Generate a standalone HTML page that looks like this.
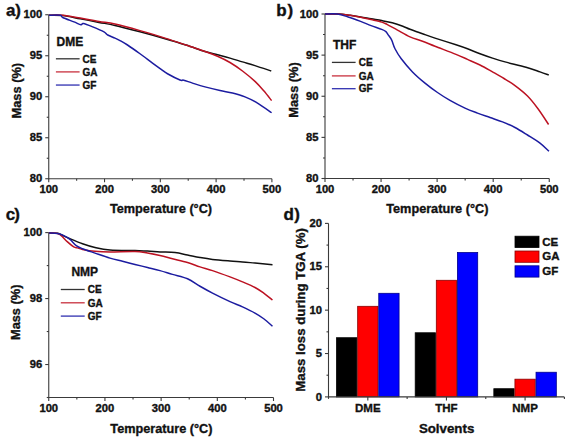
<!DOCTYPE html>
<html><head><meta charset="utf-8"><title>TGA</title>
<style>
html,body{margin:0;padding:0;background:#fff;}
body{width:568px;height:440px;overflow:hidden;}
svg{display:block;}
</style></head><body>
<svg width="568" height="440" viewBox="0 0 568 440" font-family="&quot;Liberation Sans&quot;, sans-serif" font-weight="bold">
<rect width="568" height="440" fill="#ffffff"/>
<line x1="48.75" y1="14.75" x2="48.75" y2="179.25" stroke="#3a3a3a" stroke-width="1.1"/>
<line x1="48.25" y1="178.75" x2="271.90" y2="178.75" stroke="#3a3a3a" stroke-width="1.1"/>
<line x1="45.25" y1="14.75" x2="48.75" y2="14.75" stroke="#3a3a3a" stroke-width="1.1"/>
<text transform="translate(42.25 18.35) scale(1.1 1)" font-size="10.2" text-anchor="end" fill="#111" stroke="#111" stroke-width="0.35" paint-order="stroke">100</text>
<line x1="45.25" y1="55.75" x2="48.75" y2="55.75" stroke="#3a3a3a" stroke-width="1.1"/>
<text transform="translate(42.25 59.35) scale(1.1 1)" font-size="10.2" text-anchor="end" fill="#111" stroke="#111" stroke-width="0.35" paint-order="stroke">95</text>
<line x1="45.25" y1="96.75" x2="48.75" y2="96.75" stroke="#3a3a3a" stroke-width="1.1"/>
<text transform="translate(42.25 100.35) scale(1.1 1)" font-size="10.2" text-anchor="end" fill="#111" stroke="#111" stroke-width="0.35" paint-order="stroke">90</text>
<line x1="45.25" y1="137.75" x2="48.75" y2="137.75" stroke="#3a3a3a" stroke-width="1.1"/>
<text transform="translate(42.25 141.35) scale(1.1 1)" font-size="10.2" text-anchor="end" fill="#111" stroke="#111" stroke-width="0.35" paint-order="stroke">85</text>
<line x1="45.25" y1="178.75" x2="48.75" y2="178.75" stroke="#3a3a3a" stroke-width="1.1"/>
<text transform="translate(42.25 182.35) scale(1.1 1)" font-size="10.2" text-anchor="end" fill="#111" stroke="#111" stroke-width="0.35" paint-order="stroke">80</text>
<line x1="46.75" y1="158.25" x2="48.75" y2="158.25" stroke="#3a3a3a" stroke-width="1.1"/>
<line x1="46.75" y1="117.25" x2="48.75" y2="117.25" stroke="#3a3a3a" stroke-width="1.1"/>
<line x1="46.75" y1="76.25" x2="48.75" y2="76.25" stroke="#3a3a3a" stroke-width="1.1"/>
<line x1="46.75" y1="35.25" x2="48.75" y2="35.25" stroke="#3a3a3a" stroke-width="1.1"/>
<line x1="48.75" y1="178.75" x2="48.75" y2="182.25" stroke="#3a3a3a" stroke-width="1.1"/>
<text transform="translate(48.75 193.25) scale(1.1 1)" font-size="10.2" text-anchor="middle" fill="#111" stroke="#111" stroke-width="0.35" paint-order="stroke">100</text>
<line x1="104.54" y1="178.75" x2="104.54" y2="182.25" stroke="#3a3a3a" stroke-width="1.1"/>
<text transform="translate(104.54 193.25) scale(1.1 1)" font-size="10.2" text-anchor="middle" fill="#111" stroke="#111" stroke-width="0.35" paint-order="stroke">200</text>
<line x1="160.32" y1="178.75" x2="160.32" y2="182.25" stroke="#3a3a3a" stroke-width="1.1"/>
<text transform="translate(160.32 193.25) scale(1.1 1)" font-size="10.2" text-anchor="middle" fill="#111" stroke="#111" stroke-width="0.35" paint-order="stroke">300</text>
<line x1="216.11" y1="178.75" x2="216.11" y2="182.25" stroke="#3a3a3a" stroke-width="1.1"/>
<text transform="translate(216.11 193.25) scale(1.1 1)" font-size="10.2" text-anchor="middle" fill="#111" stroke="#111" stroke-width="0.35" paint-order="stroke">400</text>
<line x1="271.90" y1="178.75" x2="271.90" y2="182.25" stroke="#3a3a3a" stroke-width="1.1"/>
<text transform="translate(271.90 193.25) scale(1.1 1)" font-size="10.2" text-anchor="middle" fill="#111" stroke="#111" stroke-width="0.35" paint-order="stroke">500</text>
<line x1="76.64" y1="178.75" x2="76.64" y2="180.75" stroke="#3a3a3a" stroke-width="1.1"/>
<line x1="132.43" y1="178.75" x2="132.43" y2="180.75" stroke="#3a3a3a" stroke-width="1.1"/>
<line x1="188.22" y1="178.75" x2="188.22" y2="180.75" stroke="#3a3a3a" stroke-width="1.1"/>
<line x1="244.01" y1="178.75" x2="244.01" y2="180.75" stroke="#3a3a3a" stroke-width="1.1"/>
<line x1="325.00" y1="14.00" x2="325.00" y2="179.00" stroke="#3a3a3a" stroke-width="1.1"/>
<line x1="324.50" y1="178.50" x2="549.25" y2="178.50" stroke="#3a3a3a" stroke-width="1.1"/>
<line x1="321.50" y1="14.00" x2="325.00" y2="14.00" stroke="#3a3a3a" stroke-width="1.1"/>
<text transform="translate(318.50 17.60) scale(1.1 1)" font-size="10.2" text-anchor="end" fill="#111" stroke="#111" stroke-width="0.35" paint-order="stroke">100</text>
<line x1="321.50" y1="55.12" x2="325.00" y2="55.12" stroke="#3a3a3a" stroke-width="1.1"/>
<text transform="translate(318.50 58.73) scale(1.1 1)" font-size="10.2" text-anchor="end" fill="#111" stroke="#111" stroke-width="0.35" paint-order="stroke">95</text>
<line x1="321.50" y1="96.25" x2="325.00" y2="96.25" stroke="#3a3a3a" stroke-width="1.1"/>
<text transform="translate(318.50 99.85) scale(1.1 1)" font-size="10.2" text-anchor="end" fill="#111" stroke="#111" stroke-width="0.35" paint-order="stroke">90</text>
<line x1="321.50" y1="137.38" x2="325.00" y2="137.38" stroke="#3a3a3a" stroke-width="1.1"/>
<text transform="translate(318.50 140.97) scale(1.1 1)" font-size="10.2" text-anchor="end" fill="#111" stroke="#111" stroke-width="0.35" paint-order="stroke">85</text>
<line x1="321.50" y1="178.50" x2="325.00" y2="178.50" stroke="#3a3a3a" stroke-width="1.1"/>
<text transform="translate(318.50 182.10) scale(1.1 1)" font-size="10.2" text-anchor="end" fill="#111" stroke="#111" stroke-width="0.35" paint-order="stroke">80</text>
<line x1="323.00" y1="157.94" x2="325.00" y2="157.94" stroke="#3a3a3a" stroke-width="1.1"/>
<line x1="323.00" y1="116.81" x2="325.00" y2="116.81" stroke="#3a3a3a" stroke-width="1.1"/>
<line x1="323.00" y1="75.69" x2="325.00" y2="75.69" stroke="#3a3a3a" stroke-width="1.1"/>
<line x1="323.00" y1="34.56" x2="325.00" y2="34.56" stroke="#3a3a3a" stroke-width="1.1"/>
<line x1="325.00" y1="178.50" x2="325.00" y2="182.00" stroke="#3a3a3a" stroke-width="1.1"/>
<text transform="translate(325.00 193.00) scale(1.1 1)" font-size="10.2" text-anchor="middle" fill="#111" stroke="#111" stroke-width="0.35" paint-order="stroke">100</text>
<line x1="381.06" y1="178.50" x2="381.06" y2="182.00" stroke="#3a3a3a" stroke-width="1.1"/>
<text transform="translate(381.06 193.00) scale(1.1 1)" font-size="10.2" text-anchor="middle" fill="#111" stroke="#111" stroke-width="0.35" paint-order="stroke">200</text>
<line x1="437.12" y1="178.50" x2="437.12" y2="182.00" stroke="#3a3a3a" stroke-width="1.1"/>
<text transform="translate(437.12 193.00) scale(1.1 1)" font-size="10.2" text-anchor="middle" fill="#111" stroke="#111" stroke-width="0.35" paint-order="stroke">300</text>
<line x1="493.19" y1="178.50" x2="493.19" y2="182.00" stroke="#3a3a3a" stroke-width="1.1"/>
<text transform="translate(493.19 193.00) scale(1.1 1)" font-size="10.2" text-anchor="middle" fill="#111" stroke="#111" stroke-width="0.35" paint-order="stroke">400</text>
<line x1="549.25" y1="178.50" x2="549.25" y2="182.00" stroke="#3a3a3a" stroke-width="1.1"/>
<text transform="translate(549.25 193.00) scale(1.1 1)" font-size="10.2" text-anchor="middle" fill="#111" stroke="#111" stroke-width="0.35" paint-order="stroke">500</text>
<line x1="353.03" y1="178.50" x2="353.03" y2="180.50" stroke="#3a3a3a" stroke-width="1.1"/>
<line x1="409.09" y1="178.50" x2="409.09" y2="180.50" stroke="#3a3a3a" stroke-width="1.1"/>
<line x1="465.16" y1="178.50" x2="465.16" y2="180.50" stroke="#3a3a3a" stroke-width="1.1"/>
<line x1="521.22" y1="178.50" x2="521.22" y2="180.50" stroke="#3a3a3a" stroke-width="1.1"/>
<line x1="48.75" y1="232.60" x2="48.75" y2="398.00" stroke="#3a3a3a" stroke-width="1.1"/>
<line x1="48.25" y1="397.50" x2="273.50" y2="397.50" stroke="#3a3a3a" stroke-width="1.1"/>
<line x1="45.25" y1="232.60" x2="48.75" y2="232.60" stroke="#3a3a3a" stroke-width="1.1"/>
<text transform="translate(42.25 236.20) scale(1.1 1)" font-size="10.2" text-anchor="end" fill="#111" stroke="#111" stroke-width="0.35" paint-order="stroke">100</text>
<line x1="45.25" y1="298.56" x2="48.75" y2="298.56" stroke="#3a3a3a" stroke-width="1.1"/>
<text transform="translate(42.25 302.16) scale(1.1 1)" font-size="10.2" text-anchor="end" fill="#111" stroke="#111" stroke-width="0.35" paint-order="stroke">98</text>
<line x1="45.25" y1="364.52" x2="48.75" y2="364.52" stroke="#3a3a3a" stroke-width="1.1"/>
<text transform="translate(42.25 368.12) scale(1.1 1)" font-size="10.2" text-anchor="end" fill="#111" stroke="#111" stroke-width="0.35" paint-order="stroke">96</text>
<line x1="46.75" y1="265.58" x2="48.75" y2="265.58" stroke="#3a3a3a" stroke-width="1.1"/>
<line x1="46.75" y1="331.54" x2="48.75" y2="331.54" stroke="#3a3a3a" stroke-width="1.1"/>
<line x1="46.75" y1="397.50" x2="48.75" y2="397.50" stroke="#3a3a3a" stroke-width="1.1"/>
<line x1="48.75" y1="397.50" x2="48.75" y2="401.00" stroke="#3a3a3a" stroke-width="1.1"/>
<text transform="translate(48.75 412.00) scale(1.1 1)" font-size="10.2" text-anchor="middle" fill="#111" stroke="#111" stroke-width="0.35" paint-order="stroke">100</text>
<line x1="104.94" y1="397.50" x2="104.94" y2="401.00" stroke="#3a3a3a" stroke-width="1.1"/>
<text transform="translate(104.94 412.00) scale(1.1 1)" font-size="10.2" text-anchor="middle" fill="#111" stroke="#111" stroke-width="0.35" paint-order="stroke">200</text>
<line x1="161.12" y1="397.50" x2="161.12" y2="401.00" stroke="#3a3a3a" stroke-width="1.1"/>
<text transform="translate(161.12 412.00) scale(1.1 1)" font-size="10.2" text-anchor="middle" fill="#111" stroke="#111" stroke-width="0.35" paint-order="stroke">300</text>
<line x1="217.31" y1="397.50" x2="217.31" y2="401.00" stroke="#3a3a3a" stroke-width="1.1"/>
<text transform="translate(217.31 412.00) scale(1.1 1)" font-size="10.2" text-anchor="middle" fill="#111" stroke="#111" stroke-width="0.35" paint-order="stroke">400</text>
<line x1="273.50" y1="397.50" x2="273.50" y2="401.00" stroke="#3a3a3a" stroke-width="1.1"/>
<text transform="translate(273.50 412.00) scale(1.1 1)" font-size="10.2" text-anchor="middle" fill="#111" stroke="#111" stroke-width="0.35" paint-order="stroke">500</text>
<line x1="76.84" y1="397.50" x2="76.84" y2="399.50" stroke="#3a3a3a" stroke-width="1.1"/>
<line x1="133.03" y1="397.50" x2="133.03" y2="399.50" stroke="#3a3a3a" stroke-width="1.1"/>
<line x1="189.22" y1="397.50" x2="189.22" y2="399.50" stroke="#3a3a3a" stroke-width="1.1"/>
<line x1="245.41" y1="397.50" x2="245.41" y2="399.50" stroke="#3a3a3a" stroke-width="1.1"/>
<line x1="328.50" y1="223.40" x2="328.50" y2="397.40" stroke="#3a3a3a" stroke-width="1.1"/>
<line x1="325.00" y1="396.90" x2="328.50" y2="396.90" stroke="#3a3a3a" stroke-width="1.1"/>
<text transform="translate(322.00 400.50) scale(1.1 1)" font-size="10.2" text-anchor="end" fill="#111" stroke="#111" stroke-width="0.35" paint-order="stroke">0</text>
<line x1="325.00" y1="353.52" x2="328.50" y2="353.52" stroke="#3a3a3a" stroke-width="1.1"/>
<text transform="translate(322.00 357.12) scale(1.1 1)" font-size="10.2" text-anchor="end" fill="#111" stroke="#111" stroke-width="0.35" paint-order="stroke">5</text>
<line x1="325.00" y1="310.15" x2="328.50" y2="310.15" stroke="#3a3a3a" stroke-width="1.1"/>
<text transform="translate(322.00 313.75) scale(1.1 1)" font-size="10.2" text-anchor="end" fill="#111" stroke="#111" stroke-width="0.35" paint-order="stroke">10</text>
<line x1="325.00" y1="266.77" x2="328.50" y2="266.77" stroke="#3a3a3a" stroke-width="1.1"/>
<text transform="translate(322.00 270.38) scale(1.1 1)" font-size="10.2" text-anchor="end" fill="#111" stroke="#111" stroke-width="0.35" paint-order="stroke">15</text>
<line x1="325.00" y1="223.40" x2="328.50" y2="223.40" stroke="#3a3a3a" stroke-width="1.1"/>
<text transform="translate(322.00 227.00) scale(1.1 1)" font-size="10.2" text-anchor="end" fill="#111" stroke="#111" stroke-width="0.35" paint-order="stroke">20</text>
<line x1="326.50" y1="375.21" x2="328.50" y2="375.21" stroke="#3a3a3a" stroke-width="1.1"/>
<line x1="326.50" y1="331.84" x2="328.50" y2="331.84" stroke="#3a3a3a" stroke-width="1.1"/>
<line x1="326.50" y1="288.46" x2="328.50" y2="288.46" stroke="#3a3a3a" stroke-width="1.1"/>
<line x1="326.50" y1="245.09" x2="328.50" y2="245.09" stroke="#3a3a3a" stroke-width="1.1"/>
<rect x="336.57" y="337.72" width="20.30" height="59.18" fill="#000000" stroke="#000000" stroke-width="0.8"/>
<rect x="357.67" y="306.31" width="20.30" height="90.59" fill="#ff0000" stroke="#8a0000" stroke-width="0.8"/>
<rect x="378.77" y="293.30" width="20.30" height="103.60" fill="#0000ff" stroke="#00008a" stroke-width="0.8"/>
<rect x="415.20" y="332.77" width="20.30" height="64.13" fill="#000000" stroke="#000000" stroke-width="0.8"/>
<rect x="436.30" y="280.29" width="20.30" height="116.61" fill="#ff0000" stroke="#8a0000" stroke-width="0.8"/>
<rect x="457.40" y="252.53" width="20.30" height="144.37" fill="#0000ff" stroke="#00008a" stroke-width="0.8"/>
<rect x="493.83" y="388.72" width="20.30" height="8.18" fill="#000000" stroke="#000000" stroke-width="0.8"/>
<rect x="514.93" y="379.18" width="20.30" height="17.72" fill="#ff0000" stroke="#8a0000" stroke-width="0.8"/>
<rect x="536.03" y="372.24" width="20.30" height="24.66" fill="#0000ff" stroke="#00008a" stroke-width="0.8"/>
<line x1="328.00" y1="396.90" x2="564.40" y2="396.90" stroke="#3a3a3a" stroke-width="1.1"/>
<line x1="367.82" y1="396.90" x2="367.82" y2="400.40" stroke="#3a3a3a" stroke-width="1.1"/>
<line x1="446.45" y1="396.90" x2="446.45" y2="400.40" stroke="#3a3a3a" stroke-width="1.1"/>
<line x1="525.08" y1="396.90" x2="525.08" y2="400.40" stroke="#3a3a3a" stroke-width="1.1"/>
<line x1="328.50" y1="396.90" x2="328.50" y2="398.90" stroke="#3a3a3a" stroke-width="1.1"/>
<line x1="407.13" y1="396.90" x2="407.13" y2="398.90" stroke="#3a3a3a" stroke-width="1.1"/>
<line x1="485.77" y1="396.90" x2="485.77" y2="398.90" stroke="#3a3a3a" stroke-width="1.1"/>
<line x1="564.40" y1="396.90" x2="564.40" y2="398.90" stroke="#3a3a3a" stroke-width="1.1"/>
<text x="367.82" y="412.30" font-size="11.5" text-anchor="middle" fill="#111" stroke="#111" stroke-width="0.35" paint-order="stroke">DME</text>
<text x="446.45" y="412.30" font-size="11.5" text-anchor="middle" fill="#111" stroke="#111" stroke-width="0.35" paint-order="stroke">THF</text>
<text x="525.08" y="412.30" font-size="11.5" text-anchor="middle" fill="#111" stroke="#111" stroke-width="0.35" paint-order="stroke">NMP</text>
<rect x="515" y="236.20" width="24" height="11.3" fill="#000000" stroke="#000000" stroke-width="0.8"/>
<text x="542.30" y="245.60" font-size="11.5" text-anchor="start" fill="#111" stroke="#111" stroke-width="0.35" paint-order="stroke">CE</text>
<rect x="515" y="251.00" width="24" height="11.3" fill="#ff0000" stroke="#8a0000" stroke-width="0.8"/>
<text x="542.30" y="260.40" font-size="11.5" text-anchor="start" fill="#111" stroke="#111" stroke-width="0.35" paint-order="stroke">GA</text>
<rect x="515" y="265.80" width="24" height="11.3" fill="#0000ff" stroke="#00008a" stroke-width="0.8"/>
<text x="542.30" y="275.20" font-size="11.5" text-anchor="start" fill="#111" stroke="#111" stroke-width="0.35" paint-order="stroke">GF</text>
<path d="M49.00,15.25 C51.29,15.31 57.54,15.01 62.75,15.60 C67.96,16.19 74.21,17.67 80.25,18.80 C86.29,19.93 93.21,21.30 99.00,22.40 C104.79,23.50 108.17,23.83 115.00,25.40 C121.83,26.97 131.67,29.58 140.00,31.80 C148.33,34.02 157.33,36.50 165.00,38.70 C172.67,40.90 179.33,42.87 186.00,45.00 C192.67,47.13 199.75,49.88 205.00,51.50 C210.25,53.12 213.33,53.65 217.50,54.75 C221.67,55.85 225.83,56.91 230.00,58.10 C234.17,59.29 238.33,60.65 242.50,61.90 C246.67,63.15 250.21,64.08 255.00,65.60 C259.79,67.12 268.54,70.10 271.25,71.00" fill="none" stroke="#111111" stroke-width="1.5" stroke-linejoin="round"/>
<path d="M49.00,15.25 C51.29,15.25 57.54,14.78 62.75,15.25 C67.96,15.72 74.21,17.06 80.25,18.10 C86.29,19.14 93.21,20.52 99.00,21.50 C104.79,22.48 108.17,22.48 115.00,24.00 C121.83,25.52 131.67,28.25 140.00,30.60 C148.33,32.95 157.33,35.70 165.00,38.10 C172.67,40.50 179.33,42.77 186.00,45.00 C192.67,47.23 199.75,49.62 205.00,51.50 C210.25,53.38 213.33,54.42 217.50,56.25 C221.67,58.08 225.83,60.04 230.00,62.50 C234.17,64.96 238.33,67.85 242.50,71.00 C246.67,74.15 251.46,78.10 255.00,81.40 C258.54,84.70 260.98,87.60 263.75,90.80 C266.52,94.00 270.29,98.97 271.60,100.60" fill="none" stroke="#bc1222" stroke-width="1.5" stroke-linejoin="round"/>
<path d="M49.00,15.25 C50.88,15.25 57.96,14.88 60.25,15.25 C62.54,15.62 60.46,16.39 62.75,17.50 C65.04,18.61 70.97,20.69 74.00,21.90 C77.03,23.11 79.33,24.48 80.90,24.75 C82.47,25.02 81.43,23.14 83.40,23.50 C85.38,23.86 89.32,25.50 92.75,26.90 C96.18,28.30 101.50,30.55 104.00,31.90 C106.50,33.25 105.92,33.97 107.75,35.00 C109.58,36.03 112.96,37.17 115.00,38.10 C117.04,39.03 117.92,39.45 120.00,40.60 C122.08,41.75 124.17,42.81 127.50,45.00 C130.83,47.19 135.83,50.73 140.00,53.75 C144.17,56.77 148.96,60.49 152.50,63.10 C156.04,65.71 158.75,67.62 161.25,69.40 C163.75,71.18 164.38,71.98 167.50,73.75 C170.62,75.52 177.29,78.92 180.00,80.00 C182.71,81.08 181.67,79.68 183.75,80.20 C185.83,80.72 188.96,81.98 192.50,83.10 C196.04,84.22 200.42,85.65 205.00,86.90 C209.58,88.15 215.42,89.57 220.00,90.60 C224.58,91.63 228.33,92.05 232.50,93.10 C236.67,94.15 240.83,95.23 245.00,96.90 C249.17,98.57 253.07,100.46 257.50,103.10 C261.93,105.74 269.25,111.14 271.60,112.75" fill="none" stroke="#1c1ca0" stroke-width="1.5" stroke-linejoin="round"/>
<path d="M325.00,14.00 C327.29,14.00 334.58,13.78 338.75,14.00 C342.92,14.22 346.36,14.82 350.00,15.30 C353.64,15.78 357.08,16.32 360.60,16.90 C364.12,17.48 367.58,18.18 371.10,18.80 C374.62,19.42 378.18,19.93 381.70,20.60 C385.22,21.27 388.68,21.87 392.20,22.80 C395.72,23.73 399.83,25.12 402.80,26.20 C405.77,27.28 406.72,28.04 410.00,29.30 C413.28,30.56 418.33,32.28 422.50,33.75 C426.67,35.22 429.42,36.27 435.00,38.10 C440.58,39.93 450.58,42.98 456.00,44.75 C461.42,46.52 463.50,47.25 467.50,48.75 C471.50,50.25 475.83,52.19 480.00,53.75 C484.17,55.31 488.33,56.74 492.50,58.10 C496.67,59.46 499.42,60.38 505.00,61.90 C510.58,63.42 520.17,65.58 526.00,67.25 C531.83,68.92 536.21,70.61 540.00,71.90 C543.79,73.19 547.29,74.48 548.75,75.00" fill="none" stroke="#111111" stroke-width="1.5" stroke-linejoin="round"/>
<path d="M325.00,14.00 C327.29,14.00 334.58,13.78 338.75,14.00 C342.92,14.22 346.36,14.75 350.00,15.30 C353.64,15.85 357.08,16.58 360.60,17.30 C364.12,18.02 367.58,18.80 371.10,19.60 C374.62,20.40 379.05,21.30 381.70,22.10 C384.35,22.90 384.37,23.05 387.00,24.40 C389.63,25.75 393.67,28.12 397.50,30.20 C401.33,32.28 405.83,35.06 410.00,36.90 C414.17,38.74 418.33,39.69 422.50,41.25 C426.67,42.81 429.42,44.06 435.00,46.25 C440.58,48.44 450.58,52.21 456.00,54.40 C461.42,56.59 463.50,57.63 467.50,59.40 C471.50,61.17 475.83,62.92 480.00,65.00 C484.17,67.08 488.50,69.65 492.50,71.90 C496.50,74.15 500.25,76.22 504.00,78.50 C507.75,80.78 511.08,82.68 515.00,85.60 C518.92,88.52 523.67,92.14 527.50,96.00 C531.33,99.86 534.48,104.00 538.00,108.75 C541.52,113.50 546.83,121.88 548.60,124.50" fill="none" stroke="#bc1222" stroke-width="1.5" stroke-linejoin="round"/>
<path d="M325.00,14.00 C327.08,14.00 333.63,13.50 337.50,14.00 C341.37,14.50 344.35,15.77 348.20,17.00 C352.05,18.23 356.78,19.97 360.60,21.40 C364.42,22.83 367.58,24.27 371.10,25.60 C374.62,26.93 379.23,28.40 381.70,29.40 C384.17,30.40 384.82,30.70 385.90,31.60 C386.98,32.50 387.23,33.38 388.20,34.80 C389.17,36.22 390.57,37.77 391.70,40.10 C392.83,42.43 393.41,45.64 395.00,48.75 C396.59,51.86 398.33,54.89 401.25,58.75 C404.17,62.61 408.54,67.84 412.50,71.90 C416.46,75.96 420.83,79.67 425.00,83.10 C429.17,86.53 433.33,89.62 437.50,92.50 C441.67,95.38 445.42,97.80 450.00,100.40 C454.58,103.00 460.42,105.98 465.00,108.10 C469.58,110.22 473.33,111.53 477.50,113.10 C481.67,114.67 485.83,116.03 490.00,117.50 C494.17,118.97 498.33,120.23 502.50,121.90 C506.67,123.57 510.83,125.32 515.00,127.50 C519.17,129.68 523.33,132.40 527.50,135.00 C531.67,137.60 536.42,140.39 540.00,143.10 C543.58,145.81 547.50,149.89 549.00,151.25" fill="none" stroke="#1c1ca0" stroke-width="1.5" stroke-linejoin="round"/>
<path d="M49.00,233.00 C50.42,233.05 55.46,233.01 57.50,233.30 C59.54,233.59 59.17,233.84 61.25,234.75 C63.33,235.66 66.46,237.25 70.00,238.75 C73.54,240.25 78.33,242.29 82.50,243.75 C86.67,245.21 90.42,246.46 95.00,247.50 C99.58,248.54 103.33,249.48 110.00,250.00 C116.67,250.52 128.75,250.43 135.00,250.60 C141.25,250.77 143.33,250.78 147.50,251.00 C151.67,251.22 155.42,251.63 160.00,251.90 C164.58,252.17 170.42,252.08 175.00,252.60 C179.58,253.12 183.33,254.18 187.50,255.00 C191.67,255.82 195.83,256.77 200.00,257.50 C204.17,258.23 207.50,258.82 212.50,259.40 C217.50,259.98 225.00,260.58 230.00,261.00 C235.00,261.42 238.33,261.55 242.50,261.90 C246.67,262.25 250.00,262.62 255.00,263.10 C260.00,263.58 269.58,264.48 272.50,264.75" fill="none" stroke="#111111" stroke-width="1.5" stroke-linejoin="round"/>
<path d="M49.00,233.00 C50.42,233.07 55.46,232.97 57.50,233.40 C59.54,233.83 59.58,234.18 61.25,235.60 C62.92,237.02 65.42,240.02 67.50,241.90 C69.58,243.78 72.08,245.90 73.75,246.90 C75.42,247.90 76.04,247.48 77.50,247.90 C78.96,248.32 79.58,248.84 82.50,249.40 C85.42,249.96 90.42,250.83 95.00,251.25 C99.58,251.67 103.33,251.86 110.00,251.90 C116.67,251.94 128.75,251.30 135.00,251.50 C141.25,251.70 143.33,252.42 147.50,253.10 C151.67,253.78 155.83,254.66 160.00,255.60 C164.17,256.54 167.92,257.60 172.50,258.75 C177.08,259.90 182.92,261.14 187.50,262.50 C192.08,263.86 195.83,265.55 200.00,266.90 C204.17,268.25 207.50,268.93 212.50,270.60 C217.50,272.27 225.00,275.02 230.00,276.90 C235.00,278.78 238.33,280.13 242.50,281.90 C246.67,283.67 251.46,285.63 255.00,287.50 C258.54,289.37 260.83,291.02 263.75,293.10 C266.67,295.18 271.04,298.85 272.50,300.00" fill="none" stroke="#bc1222" stroke-width="1.5" stroke-linejoin="round"/>
<path d="M49.00,233.00 C50.42,233.08 55.04,233.07 57.50,233.50 C59.96,233.93 61.67,234.62 63.75,235.60 C65.83,236.58 67.92,237.73 70.00,239.40 C72.08,241.07 74.17,244.04 76.25,245.60 C78.33,247.16 79.38,247.50 82.50,248.75 C85.62,250.00 90.42,251.54 95.00,253.10 C99.58,254.66 105.42,256.74 110.00,258.10 C114.58,259.46 118.33,260.20 122.50,261.25 C126.67,262.30 130.83,263.36 135.00,264.40 C139.17,265.44 143.33,266.47 147.50,267.50 C151.67,268.53 155.83,269.45 160.00,270.60 C164.17,271.75 167.92,273.04 172.50,274.40 C177.08,275.76 182.92,276.77 187.50,278.75 C192.08,280.73 195.83,283.86 200.00,286.25 C204.17,288.64 207.50,290.54 212.50,293.10 C217.50,295.66 225.00,299.30 230.00,301.60 C235.00,303.90 238.33,304.98 242.50,306.90 C246.67,308.82 251.46,311.12 255.00,313.10 C258.54,315.08 260.83,316.56 263.75,318.75 C266.67,320.94 271.04,325.00 272.50,326.25" fill="none" stroke="#1c1ca0" stroke-width="1.5" stroke-linejoin="round"/>
<line x1="55.90" y1="58.80" x2="79.60" y2="58.80" stroke="#333333" stroke-width="1.3"/>
<text x="82.50" y="62.50" font-size="10" text-anchor="start" fill="#111" stroke="#111" stroke-width="0.35" paint-order="stroke">CE</text>
<line x1="55.90" y1="71.90" x2="79.60" y2="71.90" stroke="#c8303e" stroke-width="1.3"/>
<text x="82.50" y="75.60" font-size="10" text-anchor="start" fill="#111" stroke="#111" stroke-width="0.35" paint-order="stroke">GA</text>
<line x1="55.90" y1="85.05" x2="79.60" y2="85.05" stroke="#3030b0" stroke-width="1.3"/>
<text x="82.50" y="88.75" font-size="10" text-anchor="start" fill="#111" stroke="#111" stroke-width="0.35" paint-order="stroke">GF</text>
<text x="56.60" y="46.10" font-size="12" text-anchor="start" fill="#111" stroke="#111" stroke-width="0.35" paint-order="stroke">DME</text>
<line x1="331.90" y1="62.40" x2="355.60" y2="62.40" stroke="#333333" stroke-width="1.3"/>
<text x="358.80" y="66.10" font-size="10" text-anchor="start" fill="#111" stroke="#111" stroke-width="0.35" paint-order="stroke">CE</text>
<line x1="331.90" y1="75.90" x2="355.60" y2="75.90" stroke="#c8303e" stroke-width="1.3"/>
<text x="358.80" y="79.60" font-size="10" text-anchor="start" fill="#111" stroke="#111" stroke-width="0.35" paint-order="stroke">GA</text>
<line x1="331.90" y1="88.70" x2="355.60" y2="88.70" stroke="#3030b0" stroke-width="1.3"/>
<text x="358.80" y="92.40" font-size="10" text-anchor="start" fill="#111" stroke="#111" stroke-width="0.35" paint-order="stroke">GF</text>
<text x="333.00" y="49.00" font-size="12" text-anchor="start" fill="#111" stroke="#111" stroke-width="0.35" paint-order="stroke">THF</text>
<line x1="60.80" y1="289.50" x2="84.70" y2="289.50" stroke="#333333" stroke-width="1.3"/>
<text x="87.70" y="293.20" font-size="10" text-anchor="start" fill="#111" stroke="#111" stroke-width="0.35" paint-order="stroke">CE</text>
<line x1="60.80" y1="302.80" x2="84.70" y2="302.80" stroke="#c8303e" stroke-width="1.3"/>
<text x="87.70" y="306.50" font-size="10" text-anchor="start" fill="#111" stroke="#111" stroke-width="0.35" paint-order="stroke">GA</text>
<line x1="60.80" y1="316.10" x2="84.70" y2="316.10" stroke="#3030b0" stroke-width="1.3"/>
<text x="87.70" y="319.80" font-size="10" text-anchor="start" fill="#111" stroke="#111" stroke-width="0.35" paint-order="stroke">GF</text>
<text x="71.40" y="275.90" font-size="12" text-anchor="start" fill="#111" stroke="#111" stroke-width="0.35" paint-order="stroke">NMP</text>
<text x="161.00" y="212.90" font-size="12.7" text-anchor="middle" fill="#111" stroke="#111" stroke-width="0.35" paint-order="stroke">Temperature (°C)</text>
<text x="437.30" y="212.80" font-size="12.7" text-anchor="middle" fill="#111" stroke="#111" stroke-width="0.35" paint-order="stroke">Temperature (°C)</text>
<text x="161.40" y="432.50" font-size="12.7" text-anchor="middle" fill="#111" stroke="#111" stroke-width="0.35" paint-order="stroke">Temperature (°C)</text>
<text x="446.60" y="433.20" font-size="13.3" text-anchor="middle" fill="#111" stroke="#111" stroke-width="0.35" paint-order="stroke">Solvents</text>
<text x="21.40" y="90.70" font-size="12.8" text-anchor="middle" transform="rotate(-90 21.4 90.7)" fill="#111" stroke="#111" stroke-width="0.35" paint-order="stroke">Mass (%)</text>
<text x="297.60" y="90.00" font-size="12.8" text-anchor="middle" transform="rotate(-90 297.6 90.0)" fill="#111" stroke="#111" stroke-width="0.35" paint-order="stroke">Mass (%)</text>
<text x="20.40" y="312.30" font-size="12.8" text-anchor="middle" transform="rotate(-90 20.4 312.3)" fill="#111" stroke="#111" stroke-width="0.35" paint-order="stroke">Mass (%)</text>
<text x="305.20" y="309.90" font-size="13.25" text-anchor="middle" transform="rotate(-90 305.2 309.9)" fill="#111" stroke="#111" stroke-width="0.35" paint-order="stroke">Mass loss during TGA (%)</text>
<text x="6.00" y="15.60" font-size="17" text-anchor="start" fill="#111" stroke="#111" stroke-width="0.35" paint-order="stroke">a</text>
<text x="15.30" y="15.60" font-size="17" text-anchor="start" fill="#111" stroke="#111" stroke-width="0.35" paint-order="stroke">)</text>
<text x="276.30" y="15.60" font-size="17" text-anchor="start" fill="#111" stroke="#111" stroke-width="0.35" paint-order="stroke">b</text>
<text x="287.60" y="15.60" font-size="17" text-anchor="start" fill="#111" stroke="#111" stroke-width="0.35" paint-order="stroke">)</text>
<text x="5.80" y="219.60" font-size="17" text-anchor="start" fill="#111" stroke="#111" stroke-width="0.35" paint-order="stroke">c</text>
<text x="14.30" y="219.60" font-size="17" text-anchor="start" fill="#111" stroke="#111" stroke-width="0.35" paint-order="stroke">)</text>
<text x="283.60" y="219.60" font-size="17" text-anchor="start" fill="#111" stroke="#111" stroke-width="0.35" paint-order="stroke">d</text>
<text x="294.30" y="219.60" font-size="17" text-anchor="start" fill="#111" stroke="#111" stroke-width="0.35" paint-order="stroke">)</text>
</svg>
</body></html>
